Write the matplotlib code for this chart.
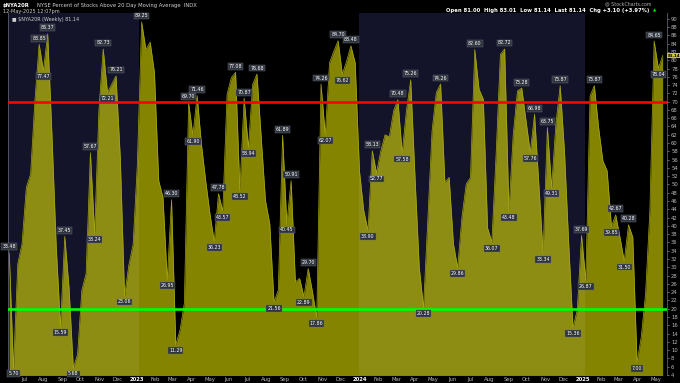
import matplotlib
matplotlib.use('Agg')
import matplotlib.pyplot as plt
import pandas as pd
import numpy as np

# weekly readings of $NYA20R, last week = 12-May-2025
values = [33.48, 5.70, 30.9, 35.7, 49.3, 52.5, 70.2, 83.85, 77.47, 86.37,
          62.0, 35.0, 15.59, 37.45, 25.0, 5.68, 9.0, 24.5, 28.5, 57.67,
          38.24, 68.0, 82.73, 72.21, 74.2, 76.21, 56.5, 23.06, 30.5, 35.5,
          55.0, 89.25, 82.6, 84.4, 77.0, 50.9, 46.9, 26.95, 46.30, 11.29,
          14.9, 21.3, 69.70, 61.90, 71.46, 59.7, 50.9, 42.9, 36.23, 47.78,
          43.57, 71.8, 75.8, 77.08, 48.52, 70.87, 58.94, 74.2, 76.68, 61.3,
          46.1, 40.5, 21.56, 24.5, 61.89, 40.45, 50.91, 26.5, 27.3, 22.89,
          29.70, 24.1, 17.86, 74.26, 62.07, 79.4, 82.2, 84.70, 76.62, 79.8,
          83.48, 79.4, 53.3, 43.7, 38.90, 58.13, 52.77, 58.1, 62.0, 61.5,
          67.8, 70.48, 57.58, 67.8, 75.26, 52.0, 30.0, 20.28, 41.3, 62.9,
          72.2, 74.26, 50.5, 51.7, 35.7, 29.86, 42.1, 50.1, 51.7, 82.60,
          73.0, 70.6, 39.5, 36.07, 57.3, 81.4, 82.72, 43.48, 62.0, 72.6,
          73.28, 65.4, 57.76, 66.98, 50.1, 33.34, 63.75, 49.31, 64.6, 73.87,
          58.1, 35.7, 15.36, 19.7, 37.69, 26.87, 71.4, 73.87, 63.75, 55.7,
          53.3, 39.85, 42.67, 37.3, 31.50, 40.28, 37.3, 7.0, 13.3, 23.7,
          43.7, 84.65, 78.04, 81.14]

# labelled swing points (indexes into values)
peaks = [0, 7, 9, 13, 19, 22, 25, 31, 38, 42, 44, 49, 53, 55, 58, 64, 66, 70,
         73, 77, 80, 85, 91, 94, 101, 109, 116, 120, 123, 126, 129, 134, 137,
         142, 145, 151]
troughs = [1, 8, 12, 15, 20, 23, 27, 37, 39, 43, 48, 50, 54, 56, 62, 65, 69,
           72, 74, 78, 84, 86, 92, 97, 105, 113, 117, 122, 125, 127, 132, 135,
           141, 144, 147, 152]

upper_level = 70
lower_level = 20
title_text = 'NYSE Percent of Stocks Above 20 Day Moving Average  INDX'
quote_text = 'Open 81.00  High 83.01  Low 81.14  Last 81.14  Chg +3.10 (+3.97%)'

dates = pd.date_range(end='2025-05-12', periods=len(values), freq='7D')
vals = np.array(values)

navy = '#13132a'
fig = plt.figure(figsize=(6.8, 3.83), dpi=100, facecolor='black')
ax = fig.add_axes([0.0118, 0.021, 0.969, 0.945])
ax.set_facecolor('black')

# alternating year shading
for yr in [2022, 2024]:
    ax.axvspan(pd.Timestamp(f'{yr}-01-01'), pd.Timestamp(f'{yr + 1}-01-04'),
               color=navy, lw=0, zorder=0)

ax.fill_between(dates, vals, 0, color='#ffff00', alpha=0.52, lw=0, zorder=1)
ax.plot(dates, vals, color='#a8a810', lw=0.5, zorder=2)

ax.axhline(upper_level, color='#ff0000', lw=1.9, zorder=3)
ax.axhline(lower_level, color='#00ff00', lw=1.9, zorder=3)

box = dict(boxstyle='square,pad=0.2', fc='#2e333d', ec='#6c727c', lw=0.3)
for i in peaks:
    ax.annotate(f'{vals[i]:.2f}', (dates[i], vals[i]), xytext=(0, 2.5),
                textcoords='offset points', ha='center', va='bottom',
                fontsize=3.4, color='white', bbox=box, zorder=5)
for i in troughs:
    ax.annotate(f'{vals[i]:.2f}', (dates[i], vals[i]), xytext=(0, -2.5),
                textcoords='offset points', ha='center', va='top',
                fontsize=3.4, color='white', bbox=box, zorder=5)

ax.set_xlim(dates[0] - pd.Timedelta(days=2), dates[-1] + pd.Timedelta(days=7))
ax.set_ylim(4.1, 91.4)

# right-hand value axis
ax.yaxis.tick_right()
ax.set_yticks(np.arange(4, 91, 2))
ax.tick_params(axis='y', labelsize=3.8, colors='#b8b8b8', length=1.5,
               width=0.4, pad=1.5)

# month axis, year name in January
months = pd.date_range('2022-07-01', '2025-05-31', freq='MS')
ax.set_xticks(months)
ax.set_xticklabels([str(m.year) if m.month == 1 else m.strftime('%b')
                    for m in months])
ax.tick_params(axis='x', labelsize=3.8, colors='#b8b8b8', length=0, pad=1.5)
for lab, m in zip(ax.get_xticklabels(), months):
    if m.month == 1:
        lab.set_fontweight('bold')
        lab.set_color('white')

for side in ['top', 'bottom']:
    ax.spines[side].set_visible(False)
for side in ['left', 'right']:
    ax.spines[side].set_color('#5a5f6a')
    ax.spines[side].set_linewidth(0.6)

# last value tag on the axis
ax.annotate(f'{vals[-1]:.2f}', (1.0, vals[-1]), xycoords=('axes fraction', 'data'),
            xytext=(0.6, 0), textcoords='offset points', ha='left', va='center',
            fontsize=2.9, color='black', fontweight='bold', annotation_clip=False,
            bbox=dict(boxstyle='square,pad=0.12', fc='#c8c81e', ec='none'), zorder=6)

# header
fig.text(0.004, 0.993, '$NYA20R', color='white', fontsize=3.8, fontweight='bold',
         va='top', ha='left')
fig.text(0.054, 0.993, title_text, color='#d0d0d0', fontsize=3.8, va='top', ha='left')
fig.text(0.004, 0.976, '12-May-2025 12:07pm', color='#d0d0d0', fontsize=3.6,
         va='top', ha='left')
ax.text(0.006, 0.99, '\u25a0 $NYA20R (Weekly) 81.14', transform=ax.transAxes,
        color='#d0d0d0', fontsize=3.5, va='top', ha='left', zorder=6)
fig.text(0.958, 0.996, '@ StockCharts.com', color='#b0b0b0', fontsize=3.4,
         va='top', ha='right')
fig.text(0.955, 0.979, quote_text, color='white', fontsize=3.8, fontweight='bold',
         va='top', ha='right')
fig.text(0.963, 0.977, '\u25b2', color='#00ff00', fontsize=3.0, va='top', ha='center')

fig.savefig('out.png', dpi=100, facecolor='black')
